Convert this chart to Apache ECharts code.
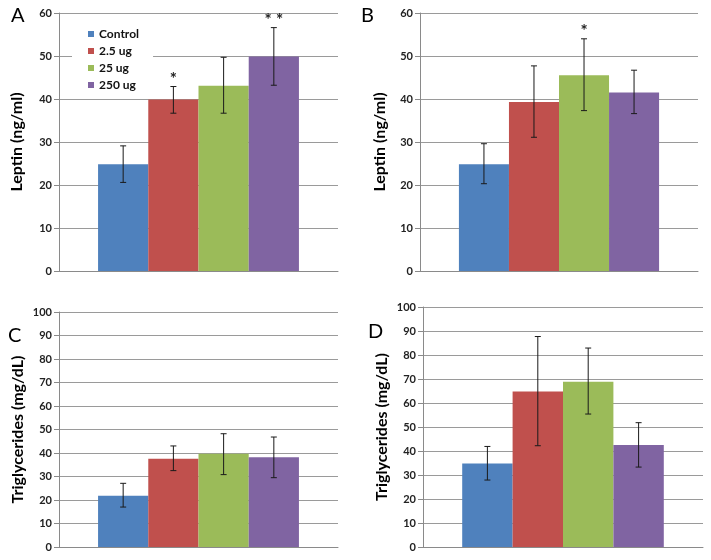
<!DOCTYPE html>
<html>
<head>
<meta charset="utf-8">
<script src="https://cdn.jsdelivr.net/npm/echarts@6/dist/echarts.min.js"></script>
<style>
  html, body { margin: 0; background: #fff; }
  #chart { width: 711px; height: 560px; }
</style>
</head>
<body>
<div id="chart"></div>
<script>
const groups = ['Control', '2.5 ug', '25 ug', '250 ug'];
const colors = ['#4F81BD', '#C0504D', '#9BBB59', '#8064A2'];

// A: leptin
const leptinA = [24.8, 39.9, 43.1, 49.9];
const leptinALow = [20.6, 36.7, 36.7, 43.2];
const leptinAHigh = [29.1, 42.9, 49.7, 56.6];
const sigA = ['', '*', '', '* *'];

// B: leptin
const leptinB = [24.8, 39.3, 45.5, 41.5];
const leptinBLow = [20.3, 31.1, 37.3, 36.6];
const leptinBHigh = [29.6, 47.7, 54.0, 46.7];
const sigB = ['', '', '*', ''];

// C: triglycerides
const trigC = [21.8, 37.6, 39.7, 38.2];
const trigCLow = [17.0, 32.5, 30.8, 29.5];
const trigCHigh = [27.1, 43.0, 48.2, 46.8];
const sigC = ['', '', '', ''];

// D: triglycerides
const trigD = [34.8, 64.8, 68.9, 42.5];
const trigDLow = [27.9, 42.2, 55.4, 33.3];
const trigDHigh = [41.9, 87.7, 82.9, 51.8];
const sigD = ['', '', '', ''];

const GAP = 0.28;
const FONT = 'Lato, "Open Sans", sans-serif';

const panels = [
  { mean: leptinA, low: leptinALow, high: leptinAHigh, sig: sigA, max: 60, name: 'Leptin (ng/ml)', letter: 'A',
    grid: { left: 59, right: 373, top: 13, bottom: 289 }, nameGap: 34, lx: 18, ly: 17 },
  { mean: leptinB, low: leptinBLow, high: leptinBHigh, sig: sigB, max: 60, name: 'Leptin (ng/ml)', letter: 'B',
    grid: { left: 420, right: 13, top: 13, bottom: 289 }, nameGap: 32, lx: 368, ly: 17 },
  { mean: trigC, low: trigCLow, high: trigCHigh, sig: sigC, max: 100, name: 'Triglycerides (mg/dL)', letter: 'C',
    grid: { left: 59, right: 373, top: 312, bottom: 13 }, nameGap: 33, lx: 15, ly: 337 },
  { mean: trigD, low: trigDLow, high: trigDHigh, sig: sigD, max: 100, name: 'Triglycerides (mg/dL)', letter: 'D',
    grid: { left: 423, right: 8, top: 307, bottom: 13 }, nameGap: 33, lx: 375, ly: 333 }
];

// error bars (and significance marks) placed on the bars through the axis scales
function errorItem(p) {
  return function (params, api) {
    const g = params.dataIndex;
    const c = api.coord([0, 0]);
    const catW = api.size([1, 0])[0];
    const bw = catW * (1 - GAP) / groups.length;
    const x = c[0] - catW * (1 - GAP) / 2 + (g + 0.5) * bw;
    const lo = api.coord([0, api.value(1)])[1];
    const hi = api.coord([0, api.value(2)])[1];
    const cap = 3;
    const style = { stroke: '#1a1a1a', lineWidth: 1 };
    const children = [
      { type: 'line', shape: { x1: x, y1: lo, x2: x, y2: hi }, style: style },
      { type: 'line', shape: { x1: x - cap, y1: lo, x2: x + cap, y2: lo }, style: style },
      { type: 'line', shape: { x1: x - cap, y1: hi, x2: x + cap, y2: hi }, style: style }
    ];
    if (p.sig[g]) {
      children.push({
        type: 'text', x: x, y: hi + 1,
        style: { text: p.sig[g], align: 'center', verticalAlign: 'bottom', font: 'bold 17px ' + FONT, fill: '#222' }
      });
    }
    return { type: 'group', children: children };
  };
}

let grids = [], xAxes = [], yAxes = [], series = [], graphics = [];
panels.forEach(function (p, i) {
  grids.push(Object.assign({ containLabel: false }, p.grid));
  xAxes.push({
    type: 'category', gridIndex: i, data: [''],
    axisLine: { show: true, lineStyle: { color: '#8a8a8a', width: 1 } },
    axisTick: { show: false }, axisLabel: { show: false }
  });
  yAxes.push({
    type: 'value', gridIndex: i, min: 0, max: p.max, interval: 10,
    name: p.name, nameLocation: 'middle', nameGap: p.nameGap,
    nameTextStyle: { fontFamily: FONT, fontWeight: 'bold', fontSize: 16, color: '#000' },
    axisLine: { show: true, lineStyle: { color: '#8a8a8a', width: 1 } },
    axisTick: { show: true, length: 5, lineStyle: { color: '#8a8a8a' } },
    axisLabel: { fontFamily: FONT, fontWeight: 'bold', fontSize: 11, color: '#222', margin: 7 },
    splitLine: { show: true, lineStyle: { color: '#9a9a9a', width: 1 } }
  });
  groups.forEach(function (g, k) {
    series.push({
      type: 'bar', name: g, xAxisIndex: i, yAxisIndex: i,
      data: [p.mean[k]], barGap: 0, barCategoryGap: (GAP * 100) + '%',
      itemStyle: { color: colors[k] }, silent: true
    });
  });
  series.push({
    type: 'custom', xAxisIndex: i, yAxisIndex: i, silent: true, z: 5,
    data: groups.map(function (g, k) { return [0, p.low[k], p.high[k]]; }),
    encode: { x: 0, y: [1, 2] },
    renderItem: errorItem(p)
  });
  graphics.push({
    type: 'text', left: p.lx - 7, top: p.ly - 11,
    style: { text: p.letter, font: '20px ' + FONT, fill: '#000' }
  });
});

const chart = echarts.init(document.getElementById('chart'));
chart.setOption({
  animation: false,
  backgroundColor: '#fff',
  grid: grids,
  xAxis: xAxes,
  yAxis: yAxes,
  legend: {
    data: groups, orient: 'vertical', left: 72, top: 23,
    padding: [5, 14, 5, 16], backgroundColor: '#fff', z: 10,
    itemWidth: 6, itemHeight: 6, itemGap: 5, icon: 'rect',
    textStyle: { fontFamily: FONT, fontWeight: 'bold', fontSize: 12, color: '#111' },
    selectedMode: false
  },
  graphic: graphics,
  series: series
});
</script>
</body>
</html>
